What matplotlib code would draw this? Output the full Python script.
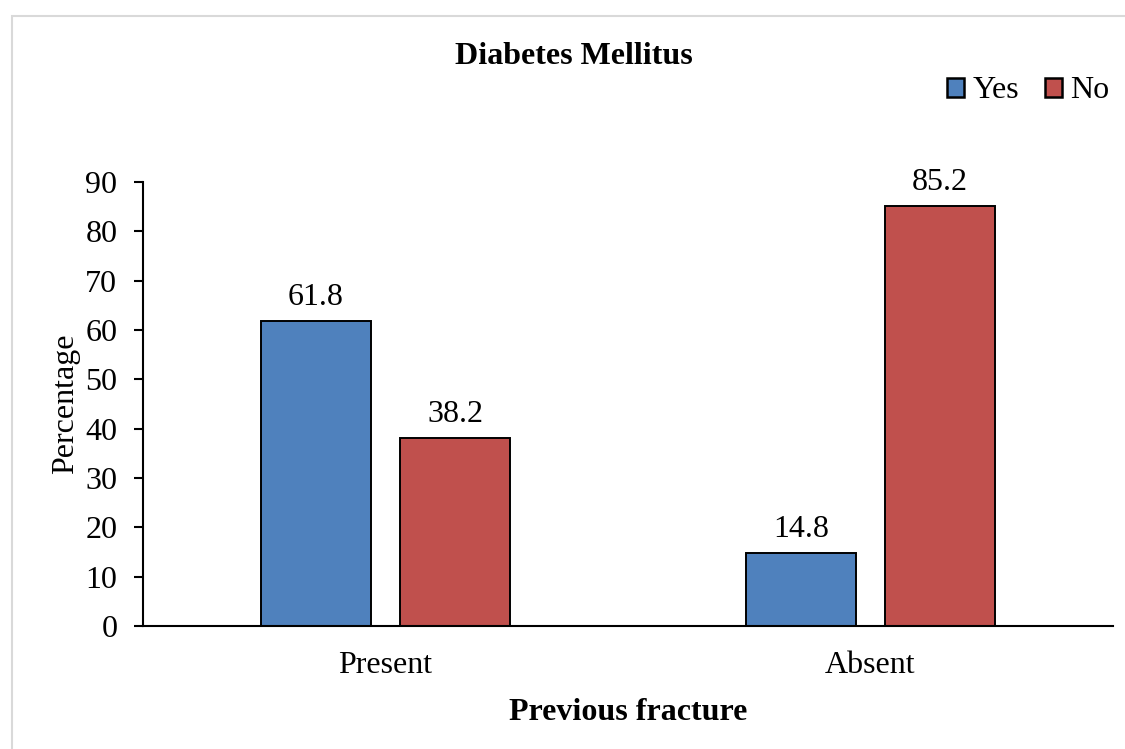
import matplotlib.pyplot as plt
import numpy as np
from matplotlib.patches import Rectangle, Patch

categories = ["Present", "Absent"]
yes_pct = [61.8, 14.8]
no_pct = [38.2, 85.2]
series_names = ["Yes", "No"]

BLUE = "#4F81BD"
RED = "#C0504D"

plt.rcParams["font.family"] = ["Liberation Serif", "DejaVu Serif"]
FS = 23

W, H = 1125, 749
fig = plt.figure(figsize=(W / 100, H / 100), dpi=100)

# plot area in pixel terms
left, right, top, bottom = 143, 1113, 182, 626
ax = fig.add_axes([left / W, 1 - bottom / H, (right - left) / W, (bottom - top) / H])

x = np.arange(len(categories))
width = 0.227
offset = 0.1435
b1 = ax.bar(x - offset, yes_pct, width, color=BLUE, edgecolor="black", linewidth=1.4,
            label=series_names[0])
b2 = ax.bar(x + offset, no_pct, width, color=RED, edgecolor="black", linewidth=1.4,
            label=series_names[1])
for bars, vals in ((b1, yes_pct), (b2, no_pct)):
    for rect, v in zip(bars, vals):
        ax.text(rect.get_x() + rect.get_width() / 2, v + 1.8, f"{v:.1f}",
                ha="center", va="bottom", fontsize=FS)

ax.set_xlim(-0.5, 1.5)
ax.set_ylim(0, 90)
ax.set_yticks(np.arange(0, 91, 10))
ax.set_xticks(x)
ax.set_xticklabels(categories)
ax.tick_params(axis="y", length=6.5, width=1.5, pad=12, labelsize=FS)
ax.tick_params(axis="x", length=0, pad=18, labelsize=FS)
for s in ("top", "right"):
    ax.spines[s].set_visible(False)
ax.spines["left"].set_linewidth(1.5)
ax.spines["bottom"].set_linewidth(1.5)

ax.set_ylabel("Percentage", fontsize=FS, labelpad=4)
ax.set_xlabel("Previous fracture", fontsize=FS, fontweight="bold", labelpad=13)

fig.text(574 / W, 1 - 56 / H, "Diabetes Mellitus", ha="center", va="center",
         fontsize=FS, fontweight="bold")

handles = [Patch(facecolor=BLUE, edgecolor="black", linewidth=1.8),
           Patch(facecolor=RED, edgecolor="black", linewidth=1.8)]
fig.legend(handles, series_names, loc="center", bbox_to_anchor=(1028 / W, 1 - 91 / H),
           ncol=2, frameon=False, fontsize=FS, handlelength=0.55, handleheight=0.55,
           handletextpad=0.25, columnspacing=0.8, borderpad=0, borderaxespad=0)

# chart area outline
fig.patches.append(Rectangle((11.5 / W, -0.05), 1.2, 1.05 - 15.5 / H,
                             transform=fig.transFigure, fill=False,
                             edgecolor="#d9d9d9", linewidth=1.5))

fig.savefig("out.png", dpi=100)
